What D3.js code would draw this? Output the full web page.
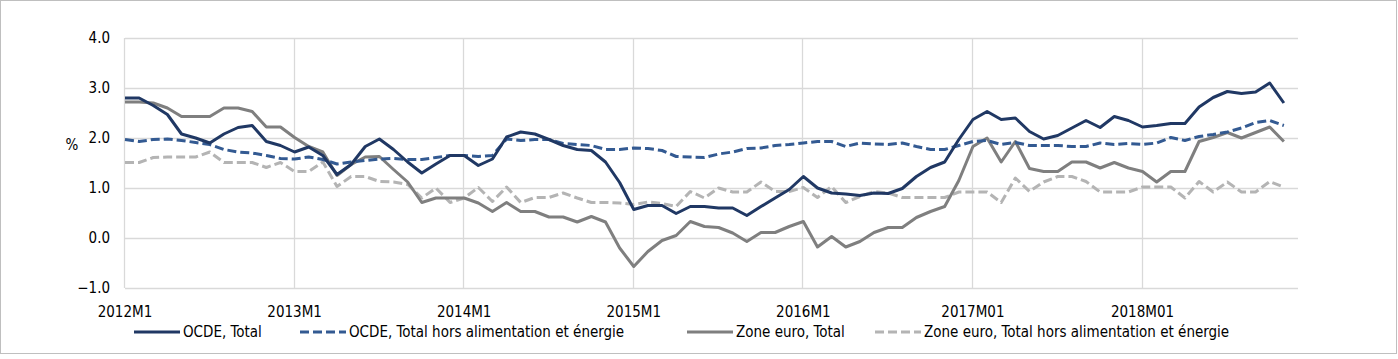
<!DOCTYPE html>
<html><head><meta charset="utf-8">
<script src="https://cdn.jsdelivr.net/npm/d3@7"></script>
<style>
html,body{margin:0;padding:0;background:#fff;}
svg text{font-family:"Liberation Sans Narrow","DejaVu Sans Condensed","Liberation Sans",sans-serif;fill:#000;}
</style></head>
<body><svg id="c" width="1398" height="359"></svg>
<script>
const nMonths = 83;
const yearTicks = [0, 12, 24, 36, 48, 60, 72];
const yearLabels = ["2012M1","2013M1","2014M1","2015M1","2016M1","2017M01","2018M01"];
const yTicks = [-1, 0, 1, 2, 3, 4];

const ocdeTotal = [2.8,2.8,2.65,2.47,2.08,2.0,1.9,2.08,2.21,2.25,1.93,1.85,1.72,1.82,1.65,1.27,1.47,1.83,1.98,1.77,1.52,1.3,1.48,1.65,1.65,1.45,1.58,2.02,2.12,2.08,1.97,1.85,1.77,1.75,1.52,1.11,0.57,0.65,0.65,0.49,0.63,0.63,0.6,0.6,0.45,0.63,0.8,0.97,1.23,1.0,0.9,0.88,0.85,0.9,0.89,0.99,1.23,1.41,1.52,1.97,2.37,2.53,2.37,2.4,2.13,1.98,2.05,2.2,2.35,2.21,2.43,2.35,2.22,2.25,2.29,2.29,2.62,2.81,2.93,2.89,2.92,3.1,2.7];
const ocdeCore = [1.97,1.93,1.97,1.98,1.95,1.91,1.87,1.77,1.72,1.7,1.65,1.59,1.58,1.62,1.57,1.48,1.52,1.55,1.58,1.59,1.57,1.57,1.61,1.65,1.65,1.63,1.65,1.98,1.95,1.97,1.97,1.89,1.87,1.85,1.77,1.77,1.8,1.79,1.75,1.63,1.62,1.61,1.68,1.72,1.79,1.8,1.85,1.87,1.9,1.93,1.93,1.83,1.9,1.88,1.87,1.9,1.83,1.77,1.77,1.85,1.93,1.95,1.87,1.91,1.85,1.85,1.85,1.83,1.83,1.9,1.87,1.89,1.87,1.9,2.01,1.95,2.03,2.07,2.12,2.2,2.31,2.35,2.25];
const euroTotal = [2.72,2.72,2.7,2.6,2.43,2.43,2.43,2.6,2.6,2.53,2.22,2.22,2.01,1.83,1.72,1.25,1.47,1.62,1.63,1.37,1.12,0.71,0.8,0.8,0.8,0.7,0.53,0.71,0.53,0.53,0.42,0.42,0.32,0.43,0.32,-0.2,-0.57,-0.27,-0.05,0.05,0.33,0.23,0.21,0.1,-0.07,0.11,0.11,0.23,0.33,-0.18,0.03,-0.18,-0.07,0.11,0.21,0.21,0.41,0.53,0.63,1.15,1.83,2.0,1.52,1.93,1.39,1.33,1.33,1.52,1.52,1.4,1.51,1.4,1.33,1.12,1.33,1.33,1.93,2.01,2.11,2.0,2.11,2.22,1.93];
const euroCore = [1.51,1.51,1.61,1.62,1.62,1.62,1.72,1.51,1.51,1.51,1.41,1.51,1.33,1.33,1.52,1.03,1.23,1.23,1.13,1.12,1.07,0.8,1.0,0.71,0.8,1.01,0.73,1.02,0.71,0.81,0.81,0.9,0.8,0.71,0.71,0.7,0.67,0.72,0.69,0.63,0.93,0.8,1.0,0.92,0.92,1.12,0.93,0.93,1.01,0.81,1.03,0.71,0.83,0.93,0.9,0.81,0.81,0.81,0.81,0.92,0.92,0.92,0.71,1.2,0.93,1.12,1.23,1.23,1.13,0.92,0.92,0.92,1.02,1.02,1.02,0.8,1.13,0.92,1.12,0.92,0.92,1.13,1.02];

const seriesNames = ["OCDE, Total","OCDE, Total hors alimentation et énergie","Zone euro, Total","Zone euro, Total hors alimentation et énergie"];
const seriesData = [ocdeTotal, ocdeCore, euroTotal, euroCore];
const seriesColors = ["#203864","#335a92","#7f7f7f","#b4b4b4"];
const seriesDash = [null,"9,4",null,"9,4"];

const svg = d3.select("#c");
svg.append("rect").attr("x",0.5).attr("y",0.5).attr("width",1396).attr("height",353)
  .attr("fill","#fff").attr("stroke","#bfbfbf");

const x = d3.scaleLinear().domain([0, nMonths]).range([125, 1298]);
const y = d3.scaleLinear().domain([-1, 4]).range([288, 38]);

// horizontal grid
svg.append("g").selectAll("line").data(yTicks).join("line")
  .attr("x1",x(0)).attr("x2",x(nMonths))
  .attr("y1",d=>Math.round(y(d))+0.5).attr("y2",d=>Math.round(y(d))+0.5)
  .attr("stroke","#d9d9d9").attr("stroke-width",1.3);
// vertical grid
svg.append("g").selectAll("line").data(yearTicks).join("line")
  .attr("x1",d=>Math.round(x(d))-0.5).attr("x2",d=>Math.round(x(d))-0.5)
  .attr("y1",y(4)).attr("y2",y(-1))
  .attr("stroke","#d9d9d9").attr("stroke-width",1.3);

// y labels
svg.append("g").selectAll("text").data(yTicks).join("text")
  .attr("x",110).attr("y",d=>y(d)+5).attr("text-anchor","end")
  .attr("font-size",15).text(d=>d3.format(".1f")(d));
svg.append("text").attr("x",72).attr("y",150).attr("text-anchor","middle").attr("font-size",15).text("%");

// x labels
svg.append("g").selectAll("text").data(yearTicks).join("text")
  .attr("x",d=>x(d)).attr("y",317).attr("text-anchor","middle")
  .attr("font-size",15).text((d,i)=>yearLabels[i]);

// lines
const line = d3.line().x((d,i)=>x(i)).y(d=>y(d));
const order = [3,2,1,0];
order.forEach(k=>{
  svg.append("path").datum(seriesData[k]).attr("d",line)
    .attr("fill","none").attr("stroke",seriesColors[k]).attr("stroke-width",3)
    .attr("stroke-linejoin","round")
    .attr("stroke-dasharray",seriesDash[k]);
});

// legend
const legendX = [134, 300, 687, 875];
seriesNames.forEach((n,k)=>{
  const g = svg.append("g");
  g.append("line").attr("x1",legendX[k]).attr("x2",legendX[k]+46).attr("y1",332).attr("y2",332)
    .attr("stroke",seriesColors[k]).attr("stroke-width",3).attr("stroke-dasharray",seriesDash[k]);
  g.append("text").attr("x",legendX[k]+49).attr("y",337).attr("font-size",15).text(n);
});
</script></body></html>
